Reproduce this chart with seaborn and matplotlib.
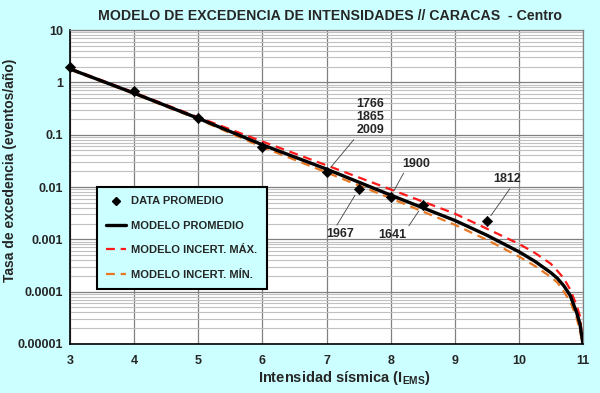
import numpy as np
import pandas as pd
import seaborn as sns
import matplotlib.pyplot as plt
from matplotlib.lines import Line2D
from matplotlib.ticker import FixedLocator, LogLocator, NullFormatter

# datos observados (promedio)
x_data = [3, 4, 5, 6, 7, 7.5, 8, 8.5, 9.5]
y_data = [2.0, 0.68, 0.21, 0.057, 0.019, 0.009, 0.0065, 0.0045, 0.0022]

# etiquetas de los sismos historicos
lbl_x = [7, 7.5, 8, 8.5, 9.5]
lbl_y = [0.019, 0.009, 0.0065, 0.0045, 0.0022]
lbl_txt = ["1766\n1865\n2009", "1967", "1900", "1641", "1812"]

# modelos
x_model = [3, 4, 5, 6, 7, 8, 9, 9.5, 10, 10.25, 10.5, 10.6, 10.7, 10.8, 10.9, 10.95, 11]
modelo_prom = [1.8, 0.62, 0.205, 0.064, 0.022, 0.0070, 0.0023, 0.0012, 0.00058, 0.00038,
               0.00023, 0.00018, 0.00013, 8.5e-5, 4.0e-5, 2.5e-5, 1e-5]
modelo_max = [1.85, 0.64, 0.215, 0.074, 0.026, 0.0090, 0.0031, 0.0016, 0.00082, 0.00055,
              0.00034, 0.00025, 0.00018, 0.00011, 5.5e-5, 3.5e-5, 1e-5]
modelo_min = [1.75, 0.60, 0.197, 0.058, 0.019, 0.0061, 0.0019, 0.00098, 0.00047, 0.00031,
              0.00019, 0.00015, 0.0001, 6.5e-5, 3.2e-5, 1.8e-5, 1e-5]

x_ticks = [3, 4, 5, 6, 7, 8, 9, 10, 11]
y_ticks = [10, 1, 0.1, 0.01, 0.001, 0.0001, 0.00001]
y_tick_labels = ["10", "1", "0.1", "0.01", "0.001", "0.0001", "0.00001"]

sns.set_style("white")
plt.rcParams['font.family'] = ['Liberation Sans', 'DejaVu Sans']
plt.rcParams['mathtext.fontset'] = 'custom'
plt.rcParams['mathtext.rm'] = 'Liberation Sans:bold'
plt.rcParams['mathtext.bf'] = 'Liberation Sans:bold'

bg = '#CCFFFF'
fig = plt.figure(figsize=(6, 3.93), dpi=100, facecolor=bg)
ax = fig.add_axes([70/600, 1-344/393, 513/600, 314/393])
ax.set_facecolor('white')

df = pd.DataFrame({'x': x_model, 'prom': modelo_prom, 'max': modelo_max, 'min': modelo_min})
dash = (0, (4, 2.6))
sns.lineplot(data=df, x='x', y='min', ax=ax, color='#E87722', lw=1.6, linestyle=dash, zorder=3)
sns.lineplot(data=df, x='x', y='max', ax=ax, color='#FF1A1A', lw=1.6, linestyle=dash, zorder=3)
sns.lineplot(data=df, x='x', y='prom', ax=ax, color='black', lw=2.4, zorder=4)
sns.scatterplot(x=x_data, y=y_data, ax=ax, marker='D', s=28, color='black',
                edgecolor='black', zorder=5, clip_on=False)

ax.set_yscale('log')
ax.set_xlim(3, 11)
ax.set_ylim(1e-5, 10)

ax.xaxis.set_major_locator(FixedLocator(x_ticks))
ax.yaxis.set_major_locator(FixedLocator(y_ticks))
ax.set_yticklabels(y_tick_labels)
ax.yaxis.set_minor_locator(LogLocator(base=10, subs=np.arange(2, 10)))
ax.yaxis.set_minor_formatter(NullFormatter())

ax.grid(True, which='major', color='#808080', lw=0.9)
ax.grid(True, which='minor', axis='y', color='#C0C0C0', lw=0.8)
ax.set_axisbelow(True)

ax.tick_params(axis='both', which='major', direction='out', length=3, width=1,
               labelsize=9, color='black')
ax.tick_params(axis='x', pad=5)
ax.tick_params(axis='y', pad=2)
ax.tick_params(which='minor', length=0)
for t in ax.get_xticklabels() + ax.get_yticklabels():
    t.set_fontweight('bold')

for s in ['left', 'bottom']:
    ax.spines[s].set_color('black')
    ax.spines[s].set_linewidth(1.2)
for s in ['top', 'right']:
    ax.spines[s].set_color('#808080')
    ax.spines[s].set_linewidth(0.9)

ax.set_xlabel('')
ax.set_ylabel('')

# anotaciones
offs = [(30, 36), (-32, -39), (12, 27), (-16, -24), (6, 36)]
has = ['left', 'left', 'left', 'right', 'left']
vas = ['bottom', 'top', 'bottom', 'top', 'bottom']
rels = [(0, 0), (0.3, 1), (0.1, 0), (1, 1), (0.7, 0)]
for xx, yy, txt, off, ha, va, rp in zip(lbl_x, lbl_y, lbl_txt, offs, has, vas, rels):
    ax.annotate(txt, xy=(xx, yy), xytext=off, textcoords='offset pixels',
                ha=ha, va=va, fontsize=9, fontweight='bold', linespacing=1.15,
                multialignment='left',
                arrowprops=dict(arrowstyle='-', color='#404040', lw=0.6,
                                relpos=rp, shrinkA=0, shrinkB=5))

# leyenda
handles = [
    Line2D([], [], marker='D', ms=4, color='black', ls='none'),
    Line2D([], [], color='black', lw=2.4),
    Line2D([], [], color='#FF1A1A', lw=1.6, ls=dash),
    Line2D([], [], color='#E87722', lw=1.6, ls=dash),
]
labels = ['DATA PROMEDIO', 'MODELO PROMEDIO', 'MODELO INCERT. MÁX.', 'MODELO INCERT. MÍN.']
leg = ax.legend(handles, labels, loc='upper left', bbox_to_anchor=(27/513, 157/314),
                borderaxespad=0, frameon=True, fancybox=False, facecolor=bg,
                edgecolor='black', framealpha=1, prop={'weight': 'bold', 'size': 8},
                labelspacing=1.3, handlelength=1.8, handletextpad=0.45, borderpad=0.85)
leg.get_frame().set_linewidth(1.5)

fig.text(329.5/600, 1-16/393, 'MODELO DE EXCEDENCIA DE INTENSIDADES // CARACAS  - Centro',
         ha='center', va='center', fontsize=10.2, fontweight='bold')
fig.text(10/600, 1-170/393, 'Tasa de excedencia (eventos/año)', rotation=90,
         ha='center', va='center', fontsize=10, fontweight='bold')
fig.text(344/600, 1-378/393, r'Intensidad sísmica (I$_{\mathrm{EMS}}$)',
         ha='center', va='center', fontsize=10.5, fontweight='bold')

fig.savefig('out.png', dpi=100, facecolor=bg)
